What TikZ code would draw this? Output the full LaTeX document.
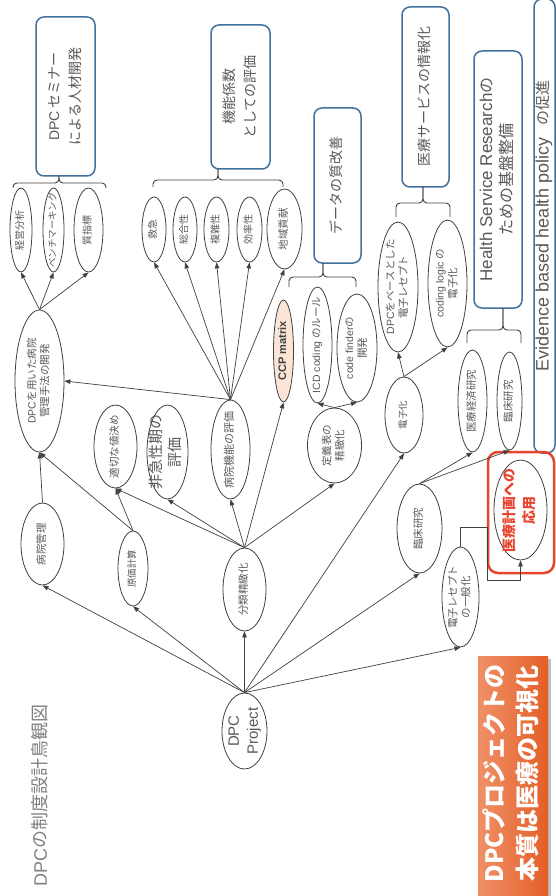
\documentclass[tikz,border=0pt]{standalone}
\usepackage{fontspec}
\setmainfont{Noto Sans CJK JP}
\newfontfamily\lat{Liberation Sans}
\usetikzlibrary{shapes.geometric,arrows.meta}
\definecolor{ln}{HTML}{404040}
\definecolor{tx}{HTML}{595959}
\definecolor{bl}{HTML}{41719C}
\definecolor{peach}{HTML}{FBE5D6}
\definecolor{rd}{HTML}{E8442E}
\definecolor{orL}{HTML}{F09068}
\definecolor{orD}{HTML}{E35F27}
\definecolor{ttl}{HTML}{808080}
\newcommand{\mk}[1]{\makebox[0pt]{\smash{\raisebox{\dimexpr(\depth-\height)/2\relax}{\begin{tabular}{@{}c@{}}#1\end{tabular}}}}}
\newcommand{\fsz}[2]{\fontsize{#1}{#2}\selectfont}
\newcommand{\lt}[1]{{\lat #1}}
\tikzset{
  el/.style={ellipse, draw=ln, line width=0.8pt, rotate=90, inner sep=0pt, text=tx, font=\fsz{10.5}{13}},
  tbox/.style={draw=bl, line width=1.5pt, rounded corners=8pt, rotate=90, inner sep=0pt, text=tx, font=\fsz{14}{21}},
  arr/.style={draw=ln, line width=0.7pt, -{Triangle[length=6pt,width=4.5pt]}},
  brc/.style={draw=ln, line width=0.9pt, rounded corners=4pt},
}
\begin{document}
\begin{tikzpicture}[x=1pt,y=-1pt]
\path[use as bounding box] (0,0) rectangle (556,896);
\fill[white] (0,0) rectangle (556,896);
\clip (0,0) rectangle (556,896);

% title boxes
\node[tbox, minimum width=159, minimum height=59] (seminar) at (65.5,96.5) {\mk{\lt{DPC} セミナー\\による人材開発}};
\node[tbox, minimum width=144, minimum height=59] (kinou) at (240.5,97) {\mk{機能係数\\としての評価}};
\node[tbox, minimum width=155, minimum height=47] (dataq) at (337.5,185.5) {\mk{データの質改善}};
\node[tbox, minimum width=180, minimum height=47] (iryoserv) at (425.5,97) {\mk{医療サービスの情報化}};
\node[tbox, minimum width=257, minimum height=48, font=\fsz{16}{20}] (hsr) at (498,179.5) {\mk{{\lat\fsz{17}{20}Health Service Research}の\\ための基盤整備}};
\node[tbox, minimum width=454, minimum height=21, font=\fsz{15}{20}] (ebhp) at (544.5,226) {\mk{{\lat\fsz{18}{20}Evidence based health policy}\hspace{12pt}の促進}};

% braces
\draw[brc] (13,188) -- (13,183) -- (59,183) -- (59,176);
\draw[brc] (106,188) -- (106,183) -- (59,183) -- (59,176);
\draw[brc] (153,187) -- (153,180) -- (218,180) -- (218,169);
\draw[brc] (283,187) -- (283,180) -- (218,180) -- (218,169);
\draw[brc] (289,287) -- (289,277) -- (323,277) -- (323,263);
\draw[brc] (356,287) -- (356,277) -- (323,277) -- (323,263);
\draw[brc] (396,217) -- (396,203) -- (423,203) -- (423,187);
\draw[brc] (450,217) -- (450,203) -- (423,203) -- (423,187);
\draw[brc] (467,343) -- (467,330) -- (503,330) -- (503,308);
\draw[brc] (521,343) -- (521,330) -- (503,330) -- (503,308);

% ellipses
\node[el, minimum width=84, minimum height=22, font=\fsz{10}{12}] (keiei) at (21,230) {\mk{経営分析}};
\node[el, minimum width=84, minimum height=21, font=\fsz{9.5}{12}] (bench) at (53.5,230) {\mk{ベンチマーキング}};
\node[el, minimum width=84, minimum height=29, font=\fsz{10}{12}] (shitsu) at (88.5,230) {\mk{質指標}};

\node[el, minimum width=65, minimum height=24, font=\fsz{10}{12}] (kyukyu) at (154,229.5) {\mk{救急}};
\node[el, minimum width=65, minimum height=24, font=\fsz{10}{12}] (sogo) at (185,229.5) {\mk{総合性}};
\node[el, minimum width=65, minimum height=25, font=\fsz{10}{12}] (fukuzatsu) at (216.5,229.5) {\mk{複雑性}};
\node[el, minimum width=65, minimum height=25, font=\fsz{10}{12}] (koritsu) at (249.5,229.5) {\mk{効率性}};
\node[el, minimum width=80, minimum height=35] (chiiki) at (284.5,229) {\mk{地域貢献}};

\node[el, minimum width=142, minimum height=49] (dpcmgmt) at (39.5,381) {\mk{\lt{DPC}を用いた病院\\管理手法の開発}};
\node[el, minimum width=82, minimum height=43] (byoin) at (42.5,544) {\mk{病院管理}};
\node[el, minimum width=75, minimum height=30, font=\fsz{9.5}{12}] (genka) at (133,568.5) {\mk{原価計算}};
\node[el, minimum width=83, minimum height=43] (nedan) at (115.5,446.5) {\mk{適切な値決め}};
\node[el, minimum width=94, minimum height=41, font=\fsz{15}{19}] (hikyu) at (167.5,452) {\mk{非急性期の\\評価}};
\node[el, minimum width=99, minimum height=39, font=\fsz{11}{13}] (kinoeval) at (230.5,449.5) {\mk{病院機能の評価}};
\node[el, fill=peach, minimum width=102, minimum height=20, text=ln, font=\bfseries\fsz{11}{13}] (ccp) at (283.5,351) {\mk{\lt{CCP matrix}}};
\node[el, minimum width=83, minimum height=43] (bunrui) at (244.5,589.5) {\mk{分類精緻化}};
\node[el, minimum width=76, minimum height=45, font=\fsz{15}{19}] (project) at (244.5,731) {\mk{\lt{DPC}\\\lt{Project}}};

\node[el, minimum width=116, minimum height=29] (icd) at (317.5,345) {\mk{\lt{ICD coding} のルール}};
\node[el, minimum width=108, minimum height=40] (codefinder) at (357,348) {\mk{\lt{code finder}の\\開発}};
\node[el, minimum width=75, minimum height=54] (teigi) at (334.5,445.5) {\mk{定義表の\\精緻化}};

\node[el, minimum width=76, minimum height=38, font=\fsz{9.5}{12}] (denshi) at (404,415) {\mk{電子化}};
\node[el, minimum width=130, minimum height=40] (dpcrece) at (398,287) {\mk{\lt{DPC}をベースとした\\電子レセプト}};
\node[el, minimum width=127, minimum height=39] (codinglogic) at (447.5,283.5) {\mk{\lt{coding logic} の\\電子化}};

\node[el, minimum width=102, minimum height=29] (keizai) at (472.5,401) {\mk{医療経済研究}};
\node[el, minimum width=98, minimum height=25] (rinsho1) at (509.5,401) {\mk{臨床研究}};
\node[el, minimum width=89, minimum height=45] (rinsho2) at (419.5,528.5) {\mk{臨床研究}};
\node[el, minimum width=100, minimum height=37] (ippan) at (460.5,597) {\mk{電子レセプト\\の一般化}};

\node[draw=rd, line width=2.5pt, rounded corners=10pt, minimum width=66, minimum height=121, inner sep=0pt] (redbox) at (521,512.5) {};
\node[el, minimum width=100, minimum height=53, text=rd, font=\bfseries\fsz{14}{20}] (keikaku) at (520.5,510) {\mk{医療計画への\\応用}};

% connectors
\draw[arr] (project.east) -- (bunrui.west);
\draw[arr] (project.east) -- (genka.west);
\draw[arr] (project.east) -- (byoin.west);
\draw[arr] (project.east) -- (rinsho2.west);
\draw[arr] (project.east) -- (denshi.west);
\draw[arr] (project.east) -- (ippan.west);
\draw[arr] (bunrui.east) -- (kinoeval.west);
\draw[arr] (bunrui.east) -- (ccp.west);
\draw[arr] (bunrui.east) -- (teigi.west);
\draw[arr] (bunrui.east) -- (nedan.west);
\draw[arr] (bunrui.east) -- (hikyu.west);
\draw[arr] (genka.east) -- (nedan.west);
\draw[arr] (genka.east) -- (dpcmgmt.west);
\draw[arr] (byoin.east) -- (dpcmgmt.west);
\draw[arr] (kinoeval.east) -- (dpcmgmt.south);
\draw[arr] (kinoeval.east) -- (kyukyu.west);
\draw[arr] (kinoeval.east) -- (sogo.west);
\draw[arr] (kinoeval.east) -- (fukuzatsu.west);
\draw[arr] (kinoeval.east) -- (koritsu.west);
\draw[arr] (kinoeval.east) -- (chiiki.west);
\draw[arr] (dpcmgmt.east) -- (keiei.west);
\draw[arr] (dpcmgmt.east) -- (bench.west);
\draw[arr] (dpcmgmt.east) -- (shitsu.west);
\draw[arr] (teigi.east) -- (icd.west);
\draw[arr] (teigi.east) -- (codefinder.west);
\draw[arr] (denshi.east) -- (dpcrece.west);
\draw[arr] (denshi.east) -- (codinglogic.west);
\draw[arr] (rinsho2.east) -- (keizai.west);
\draw[arr] (rinsho2.east) -- (rinsho1.west);
\coordinate (elb) at (487,580);
\draw[arr] (ippan.east) -- ++(0,-19) -| (elb) -| (keikaku.west);

% orange box
\fill[black!25] (481,659) rectangle (551,910);
\shade[left color=orL, right color=orD] (478,656) rectangle (548,910);
\node[rotate=90, anchor=east, text=white, font=\bfseries\fsz{24}{33}, inner sep=0pt] (orange) at (513,664) {\begin{tabular}{@{}c@{}}DPCプロジェクトの\\本質は医療の可視化\end{tabular}};

% title
\node[rotate=90, text=ttl, font=\fsz{18}{22}, inner sep=0pt] (title) at (40,795) {\lt{DPC}の制度設計鳥観図};
\end{tikzpicture}
\end{document}
